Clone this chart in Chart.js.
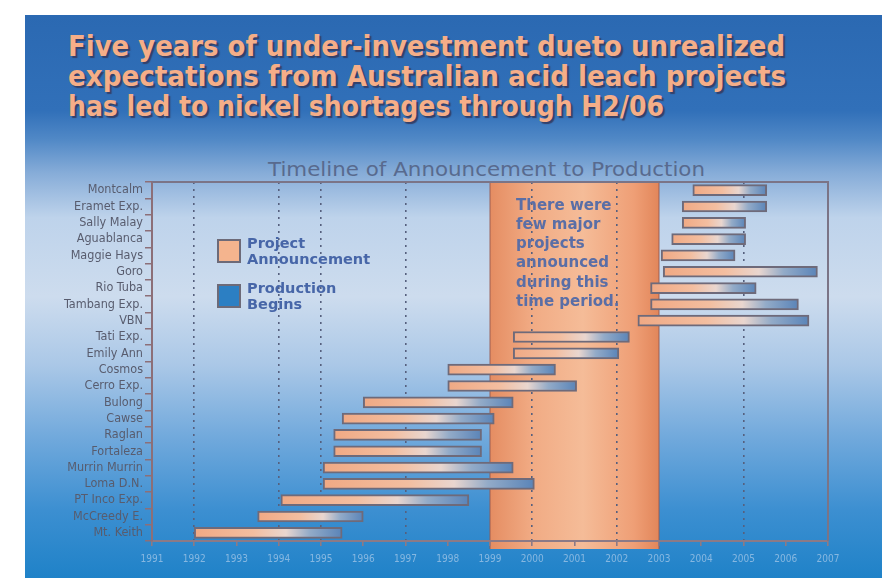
<!DOCTYPE html>
<html>
<head>
<meta charset="utf-8">
<title>Timeline of Announcement to Production</title>
<script src="https://cdn.jsdelivr.net/npm/chart.js@4.4.1/dist/chart.umd.min.js"></script>
<style>
  html, body { margin: 0; padding: 0; background: #fff; }
  body { width: 890px; height: 578px; position: relative; overflow: hidden; }
  #slide {
    position: absolute; left: 25px; top: 15px; width: 857px; height: 563px;
    background: linear-gradient(to bottom,
      #2b69b2 0%, #3170b9 17%, #5088c6 22%, #86acd8 28%, #bed3eb 36%, #cddcee 50%,
      #abc8e7 62%, #71a9dc 75%, #3c8fd1 88%, #1f82c8 100%);
  }
  .headline {
    position: absolute; left: 68px;
    font: bold 28px "DejaVu Sans Condensed", "DejaVu Sans", sans-serif;
    color: #f5ae88; text-shadow: 2px 2px 1px #33406a;
    white-space: nowrap; transform-origin: left top;
  }
  #chartTitle {
    position: absolute; left: 268px; top: 158px;
    font: 19.5px "DejaVu Sans", sans-serif; color: #586a8e;
    white-space: nowrap; transform-origin: left top;
  }
  #wrap { position: absolute; left: 0; top: 0; width: 890px; height: 578px; }
</style>
</head>
<body>
<div id="slide"></div>
<div class="headline" style="top:30px" data-w="717">Five years of under-investment dueto unrealized</div>
<div class="headline" style="top:60px" data-w="718">expectations from Australian acid leach projects</div>
<div class="headline" style="top:90px" data-w="596">has led to nickel shortages through H2/06</div>
<div id="chartTitle" data-w="437">Timeline of Announcement to Production</div>
<div id="wrap"><canvas id="timeline" width="890" height="578"></canvas></div>

<script>
// projects, top to bottom
const projects = ['Montcalm', 'Eramet Exp.', 'Sally Malay', 'Aguablanca', 'Maggie Hays', 'Goro',
  'Rio Tuba', 'Tambang Exp.', 'VBN', 'Tati Exp.', 'Emily Ann', 'Cosmos', 'Cerro Exp.', 'Bulong',
  'Cawse', 'Raglan', 'Fortaleza', 'Murrin Murrin', 'Loma D.N.', 'PT Inco Exp.', 'McCreedy E.', 'Mt. Keith'];

// year of announcement and year production begins (decimal years)
const announced = [2003.8, 2003.55, 2003.55, 2003.3, 2003.05, 2003.1, 2002.8, 2002.8, 2002.5,
  1999.55, 1999.55, 1998.0, 1998.0, 1996.0, 1995.5, 1995.3, 1995.3, 1995.05, 1995.05, 1994.05, 1993.5, 1992.0];
const production = [2005.55, 2005.55, 2005.05, 2005.05, 2004.8, 2006.75, 2005.3, 2006.3, 2006.55,
  2002.3, 2002.05, 2000.55, 2001.05, 1999.55, 1999.1, 1998.8, 1998.8, 1999.55, 2000.05, 1998.5, 1996.0, 1995.5];

// axis ticks and the dotted reference years
const yearTicks = [1991, 1992, 1993, 1994, 1995, 1996, 1997, 1998, 1999, 2000, 2001, 2002, 2003, 2004, 2005, 2006, 2007];
const gridYears = [1992, 1994, 1995, 1997, 2000, 2002, 2005];

// period with few announcements
const lullPeriod = [1999, 2003];
const lullNote = ['There were', 'few major', 'projects', 'announced', 'during this', 'time period.'];
const legendItems = ['Project|Announcement', 'Production|Begins'];

// squeeze the headline lines to their set widths
document.querySelectorAll('[data-w]').forEach(el => {
  const w = el.getBoundingClientRect().width;
  el.style.transform = 'scaleX(' + (Number(el.dataset.w) / w) + ')';
});

const lullBand = {
  id: 'lullBand',
  beforeDraw(chart) {
    const { ctx, chartArea, scales: { x } } = chart;
    const x0 = x.getPixelForValue(lullPeriod[0]);
    const x1 = x.getPixelForValue(lullPeriod[1]);
    const g = ctx.createLinearGradient(x0, 0, x1, 0);
    g.addColorStop(0, '#e58d62');
    g.addColorStop(0.25, '#f1ab84');
    g.addColorStop(0.55, '#f5bc98');
    g.addColorStop(0.85, '#ef9f76');
    g.addColorStop(1, '#e2865a');
    ctx.save();
    ctx.fillStyle = g;
    ctx.fillRect(x0, chartArea.top, x1 - x0, chartArea.bottom - chartArea.top + 8);
    ctx.strokeStyle = 'rgba(150,90,80,0.6)';
    ctx.lineWidth = 1.5;
    ctx.beginPath();
    ctx.moveTo(x0, chartArea.top); ctx.lineTo(x0, chartArea.bottom + 8);
    ctx.moveTo(x1, chartArea.top); ctx.lineTo(x1, chartArea.bottom + 8);
    ctx.stroke();
    ctx.restore();
  },
  beforeDatasetsDraw(chart) {
    const { ctx, chartArea } = chart;
    ctx.save();
    ctx.strokeStyle = '#7b7486';
    ctx.lineWidth = 2;
    ctx.beginPath();
    ctx.moveTo(chartArea.left, chartArea.top);
    ctx.lineTo(chartArea.right, chartArea.top);
    ctx.lineTo(chartArea.right, chartArea.bottom);
    ctx.stroke();
    ctx.restore();
  },
  afterDraw(chart) {
    const { ctx, scales: { x } } = chart;
    ctx.save();
    // note inside the band
    ctx.fillStyle = '#5a6ea6';
    ctx.font = 'bold 15px "DejaVu Sans", sans-serif';
    ctx.textBaseline = 'middle';
    const nx = x.getPixelForValue(lullPeriod[0]) + 26;
    lullNote.forEach((line, i) => ctx.fillText(line, nx, 206 + i * 19.2));

    // legend
    const boxes = [{ y: 240, fill: '#f4b48e' }, { y: 285, fill: '#2c7fc3' }];
    boxes.forEach((b, i) => {
      ctx.fillStyle = b.fill;
      ctx.fillRect(218, b.y, 22, 22);
      ctx.strokeStyle = '#6d6a78';
      ctx.lineWidth = 2;
      ctx.strokeRect(218, b.y, 22, 22);
      ctx.fillStyle = '#4766a8';
      ctx.font = 'bold 14.5px "DejaVu Sans", sans-serif';
      const [l1, l2] = legendItems[i].split('|');
      ctx.fillText(l1, 247, b.y + 4);
      ctx.fillText(l2, 247, b.y + 20);
    });
    ctx.restore();
  }
};

function barFill(c) {
  const chart = c.chart;
  if (!chart.chartArea || c.type !== 'data') return '#f2b08c';
  const x = chart.scales.x;
  const x0 = x.getPixelForValue(c.raw[0]);
  const x1 = x.getPixelForValue(c.raw[1]);
  const g = chart.ctx.createLinearGradient(x0, 0, x1, 0);
  g.addColorStop(0, '#f0a984');
  g.addColorStop(0.4, '#f3bea0');
  g.addColorStop(0.62, '#e9d6cf');
  g.addColorStop(0.78, '#93abc8');
  g.addColorStop(1, '#5a84b8');
  return g;
}

new Chart(document.getElementById('timeline'), {
  type: 'bar',
  data: {
    labels: projects,
    datasets: [{
      label: 'Project Announcement',
      data: announced.map((a, i) => [a, production[i]]),
      backgroundColor: barFill,
      borderColor: '#6e6a7a',
      borderWidth: 2,
      borderSkipped: false,
      barThickness: 11
    }]
  },
  options: {
    indexAxis: 'y',
    responsive: false,
    animation: false,
    layout: { padding: { top: 182, right: 62, bottom: 0, left: 0 } },
    plugins: {
      legend: { display: false },
      tooltip: { enabled: false }
    },
    scales: {
      x: {
        type: 'linear',
        min: yearTicks[0],
        max: yearTicks[yearTicks.length - 1],
        afterBuildTicks: scale => { scale.ticks = yearTicks.map(v => ({ value: v })); },
        afterFit: scale => { scale.height = 37; },
        grid: {
          color: c => gridYears.includes(c.tick && c.tick.value) ? '#56607e' : 'rgba(0,0,0,0)',
          lineWidth: 1.6,
          tickColor: '#8c7a86',
          tickLength: 5
        },
        border: { color: '#8c7a86', width: 2, dash: [2, 5] },
        ticks: {
          color: 'rgba(165,200,232,0.75)',
          font: { family: 'DejaVu Sans Condensed', size: 10 },
          padding: 7,
          maxRotation: 0,
          autoSkip: false,
          callback: v => String(v)
        }
      },
      y: {
        type: 'category',
        afterFit: scale => { scale.width = 152; },
        grid: { drawOnChartArea: false, color: '#8c6f78', tickLength: 7, lineWidth: 1.5 },
        border: { color: '#8c6f78', width: 2 },
        ticks: {
          color: '#585c6e',
          font: { family: 'DejaVu Sans Condensed', size: 12.5 },
          padding: 2,
          autoSkip: false
        }
      }
    }
  },
  plugins: [lullBand]
});
</script>
</body>
</html>
